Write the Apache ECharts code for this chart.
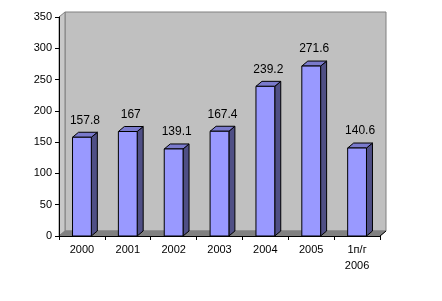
<!DOCTYPE html>
<html>
<head>
<meta charset="utf-8">
<script src="https://cdn.jsdelivr.net/npm/echarts@6/dist/echarts.min.js"></script>
<style>html,body{margin:0;padding:0;background:#fff;}#c{width:442px;height:301px;}</style>
</head>
<body>
<div id="c"></div>
<script>
var categories = ['2000', '2001', '2002', '2003', '2004', '2005', '1п/г\n2006'];
var values = [157.8, 167, 139.1, 167.4, 239.2, 271.6, 140.6];
var labels = ['157.8', '167', '139.1', '167.4', '239.2', '271.6', '140.6'];
var yTicks = [0, 50, 100, 150, 200, 250, 300, 350];

var DX = 6, DY = -5;
var chart = echarts.init(document.getElementById('c'), null, {renderer: 'canvas'});
var font = 'Arial, "Liberation Sans", sans-serif';

chart.setOption({
  animation: false,
  backgroundColor: '#ffffff',
  grid: {left: 59, right: 62, top: 17, bottom: 65},
  xAxis: {
    type: 'category', data: categories, z: 5,
    axisLine: {show: true, lineStyle: {color: '#000', width: 1}},
    axisTick: {show: true, length: 4, lineStyle: {color: '#000'}},
    axisLabel: {color: '#000', fontSize: 11, fontFamily: font, margin: 6, lineHeight: 16, interval: 0}
  },
  yAxis: {
    type: 'value', min: 0, max: 350, interval: 50, z: 5,
    axisLine: {show: true, lineStyle: {color: '#000', width: 1}},
    axisTick: {show: true, length: 4, lineStyle: {color: '#000'}},
    splitLine: {show: false},
    axisLabel: {color: '#000', fontSize: 11, fontFamily: font, margin: 7,
      formatter: function (v) { return yTicks.indexOf(v) >= 0 ? String(v) : ''; }}
  },
  series: [
    {
      type: 'custom', z: 1, silent: true,
      data: [[0, 0]],
      renderItem: function (params, api) {
        var cs = params.coordSys;
        var gx = cs.x, gy = cs.y, gw = cs.width, gh = cs.height;
        return {
          type: 'group',
          children: [
            {type: 'rect', shape: {x: gx + DX, y: gy + DY, width: gw, height: gh},
              style: {fill: '#C0C0C0', stroke: '#808080', lineWidth: 1}},
            {type: 'polygon', shape: {points: [[gx, gy], [gx + DX, gy + DY], [gx + DX, gy + gh + DY], [gx, gy + gh]]},
              style: {fill: '#C8C8C8', stroke: '#808080', lineWidth: 1}},
            {type: 'polygon', shape: {points: [[gx, gy + gh], [gx + DX, gy + gh + DY], [gx + gw + DX, gy + gh + DY], [gx + gw, gy + gh]]},
              style: {fill: '#808080', stroke: '#808080', lineWidth: 1}},
            {type: 'line', shape: {x1: gx + gw, y1: gy + gh, x2: gx + gw + DX, y2: gy + gh + DY},
              style: {stroke: '#000', lineWidth: 1}}
          ]
        };
      }
    },
    {
      type: 'custom', z: 3,
      data: values.map(function (v, i) { return [i, v]; }),
      renderItem: function (params, api) {
        var i = api.value(0), v = api.value(1);
        var top = api.coord([i, v]);
        var base = api.coord([i, 0]);
        var w = api.size([1, 0])[0] * 0.41;
        var l = top[0] - w / 2, r = top[0] + w / 2, ty = top[1], by = base[1];
        return {
          type: 'group',
          children: [
            {type: 'polygon', shape: {points: [[r, ty], [r + DX, ty + DY], [r + DX, by + DY], [r, by]]},
              style: {fill: '#4F4F85', stroke: '#000', lineWidth: 1}},
            {type: 'polygon', shape: {points: [[l, ty], [l + DX, ty + DY], [r + DX, ty + DY], [r, ty]]},
              style: {fill: '#7A7ACC', stroke: '#000', lineWidth: 1}},
            {type: 'rect', shape: {x: l, y: ty, width: w, height: by - ty},
              style: {fill: '#9999FF', stroke: '#000', lineWidth: 1}},
            {type: 'text', x: top[0] + 3, y: ty - 17,
              style: {text: labels[params.dataIndex], fill: '#000', font: '12px ' + font, align: 'center', verticalAlign: 'middle'}}
          ]
        };
      }
    }
  ]
});
</script>
</body>
</html>
